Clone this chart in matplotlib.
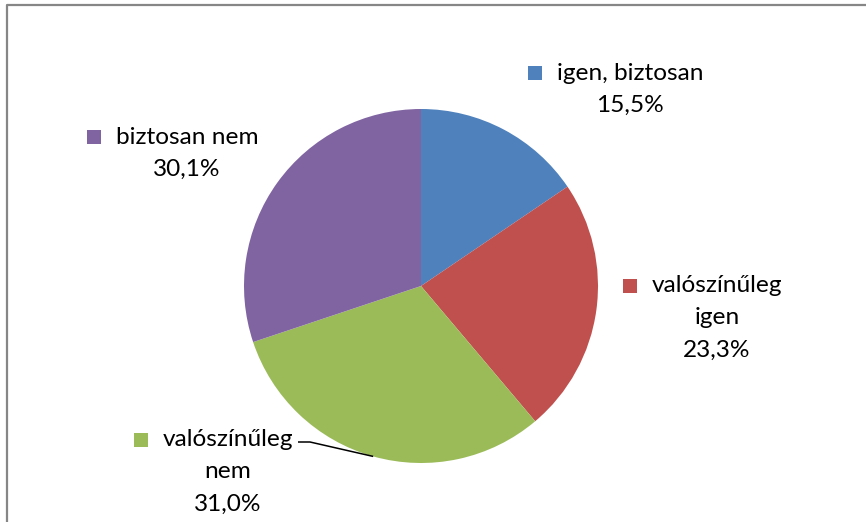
import numpy as np
import matplotlib
matplotlib.use("Agg")
import matplotlib.pyplot as plt
from matplotlib.lines import Line2D

# chart data
categories = ["igen, biztosan", "valószínűleg igen", "valószínűleg nem", "biztosan nem"]
shares = [15.5, 23.3, 31.0, 30.1]
colors = ["#4F81BD", "#C0504D", "#9BBB59", "#8064A2"]

# label layout (pixel coords from top-left): text centre x, first line y, line breaks
label_lines = [["igen, biztosan"], ["valószínűleg", "igen"], ["valószínűleg", "nem"], ["biztosan nem"]]
label_pos = [(630, 73), (717, 286), (228, 440), (187, 137)]

W, H = 866, 522
FONT = "Lato"
FS = 17.6
LINE_H = 32

fig = plt.figure(figsize=(W / 100, H / 100), dpi=100, facecolor="white")
ax = fig.add_axes([0, 0, 1, 1])
ax.set_xlim(0, W)
ax.set_ylim(0, H)
ax.set_aspect("equal")
ax.axis("off")

cx, cy, r = 421, H - 286, 177
wedges, _ = ax.pie(shares, colors=colors, startangle=90, counterclock=False,
                   center=(cx, cy), radius=r,
                   wedgeprops=dict(linewidth=0, antialiased=True))
ax.set_xlim(0, W)
ax.set_ylim(0, H)

renderer = fig.canvas.get_renderer()
for i, (lines, (tx, ty)) in enumerate(zip(label_lines, label_pos)):
    lines = lines + [f"{shares[i]:.1f}".replace(".", ",") + "%"]
    first = None
    for j, line in enumerate(lines):
        t = ax.text(tx, H - (ty + j * LINE_H), line, ha="center", va="center",
                    fontsize=FS, family=FONT, color="black")
        if j == 0:
            first = t
    bb = first.get_window_extent(renderer)
    ax.plot(bb.x0 - 22, H - ty, marker="s", markersize=9.5, color=colors[i],
            markeredgewidth=0, linestyle="none")

# leader line for the green slice, ending at the middle of its arc
w = wedges[2]
mid = np.deg2rad((w.theta1 + w.theta2) / 2)
ex, ey = cx + r * np.cos(mid), cy + r * np.sin(mid)
ax.plot([298, 310, ex], [H - 442, H - 442, ey], color="black", lw=1.1,
        solid_capstyle="butt")

# chart area frame (cropped at right and bottom)
fig.add_artist(Line2D([7.5 / W, 7.5 / W, 1], [0, (H - 4.5) / H, (H - 4.5) / H],
                      transform=fig.transFigure, color="#868686", lw=1.6))

fig.savefig("out.png", dpi=100, facecolor="white")
